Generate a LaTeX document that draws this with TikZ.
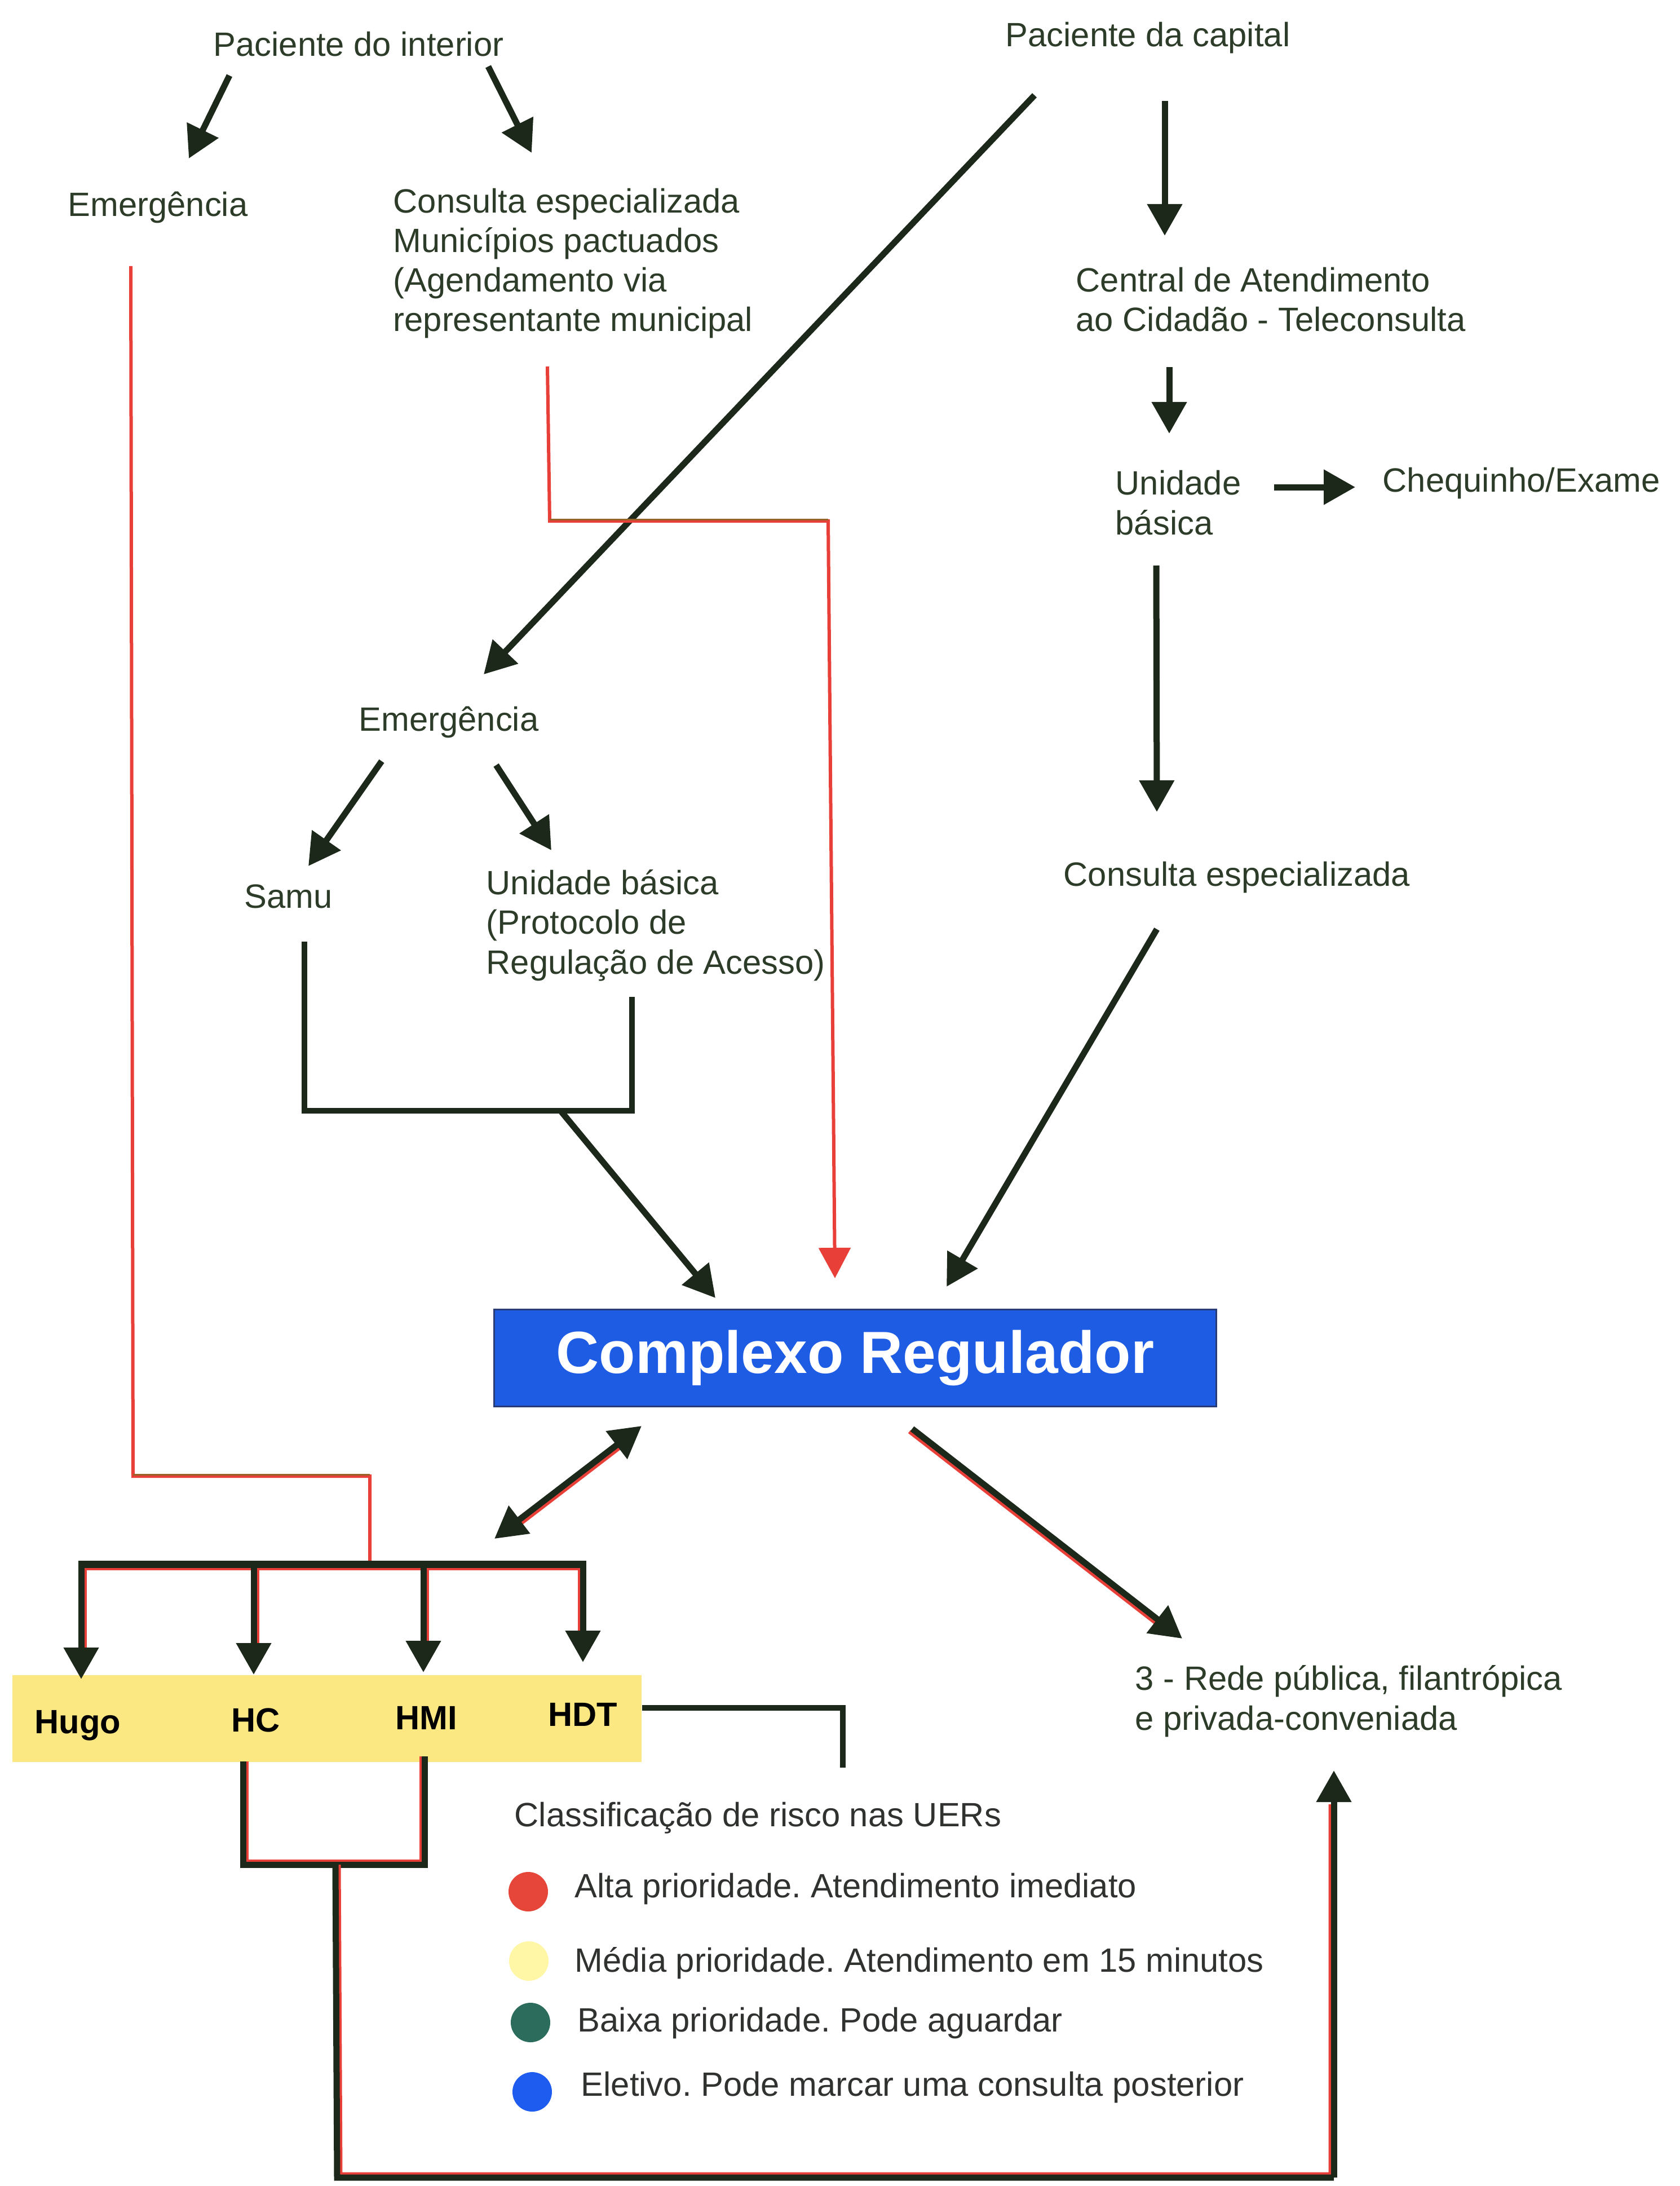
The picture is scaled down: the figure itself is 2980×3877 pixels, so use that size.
\documentclass[tikz,border=0pt]{standalone}
\usepackage{fontspec}
\setmainfont{Liberation Sans}
\usetikzlibrary{arrows.meta}
\frenchspacing
\definecolor{ink}{RGB}{44,60,40}
\definecolor{linec}{RGB}{28,40,26}
\definecolor{redc}{RGB}{232,64,56}
\definecolor{olivec}{RGB}{150,100,40}
\definecolor{boxblue}{RGB}{30,92,228}
\definecolor{boxedge}{RGB}{40,60,120}
\definecolor{ybar}{RGB}{251,232,130}
\definecolor{legtext}{RGB}{48,50,48}
\definecolor{cred}{RGB}{230,70,58}
\definecolor{cyel}{RGB}{255,246,166}
\definecolor{cteal}{RGB}{44,108,92}
\definecolor{cblue}{RGB}{30,92,240}
\begin{document}
\begin{tikzpicture}[x=0.1mm,y=-0.1mm,
  txt/.style={font=\fontsize{17}{20}\selectfont, text=ink, inner sep=0pt, align=left},
  legtxt/.style={txt, text=legtext},
  hlab/.style={font=\bfseries\fontsize{17}{20}\selectfont, text=black, inner sep=0pt, anchor=base},
  darr/.style={draw=linec, line width=1.1mm, -{Triangle[width=6mm,length=5.6mm]}},
  dline/.style={draw=linec, line width=1.1mm},
  rline/.style={draw=redc, line width=0.6mm},
  rtwin/.style={draw=redc, line width=0.7mm},
  rarr/.style={draw=redc, line width=0.6mm, -{Triangle[width=5.6mm,length=5.4mm]}},
  dot/.style={circle, minimum size=7mm, inner sep=0pt},
]
\useasboundingbox[fill=white] (0,0) rectangle (2980,3877);

% ---------- text nodes (multi-line nodes: base = last line) ----------
\node[txt, anchor=base] (pint) at (636,100) {Paciente do interior};
\node[txt, anchor=base] (pcap) at (2036,83) {Paciente da capital};
\node[txt, anchor=base west] (emg1) at (120,384) {Emergência};
\node[txt, anchor=base west] (cons1) at (697,588) {Consulta especializada\\Municípios pactuados\\(Agendamento via\\representante municipal};
\node[txt, anchor=base west] (central) at (1908,588) {Central de Atendimento\\ao Cidadão - Teleconsulta};
\node[txt, anchor=base west] (ubas1) at (1978,948) {Unidade\\básica};
\node[txt, anchor=base west] (cheq) at (2452,872) {Chequinho/Exame};
\node[txt, anchor=base west] (emg2) at (636,1296) {Emergência};
\node[txt, anchor=base west] (samu) at (433,1610) {Samu};
\node[txt, anchor=base west] (ubas2) at (862,1727) {Unidade básica\\(Protocolo de\\Regulação de Acesso)};
\node[txt, anchor=base west] (cons2) at (1886,1571) {Consulta especializada};

\node[fill=boxblue, draw=boxedge, line width=0.3mm, minimum width=128.1mm, minimum height=17.2mm, inner sep=0pt,
      font=\bfseries\fontsize{30}{36}\selectfont, text=white] (cr) at (1517,2408) {Complexo Regulador};

\node[fill=ybar, minimum width=111.6mm, minimum height=15.4mm, inner sep=0pt] (hosp) at (580,3048) {};
\node[hlab] (hugo) at (138,3074) {Hugo};
\node[hlab] (hc) at (454,3071) {HC};
\node[hlab] (hmi) at (756,3067) {HMI};
\node[hlab] (hdt) at (1034,3061) {HDT};

\node[txt, anchor=base west] (rede) at (2013,3068) {3 - Rede pública, filantrópica\\e privada-conveniada};

\node[legtxt, anchor=base west] (legt) at (912,3239) {Classificação de risco nas UERs};
\node[dot, fill=cred] (c1) at (937,3355) {};
\node[dot, fill=cyel] (c2) at (938,3478) {};
\node[dot, fill=cteal] (c3) at (941,3587) {};
\node[dot, fill=cblue] (c4) at (944,3710) {};
\node[legtxt, anchor=base west] (l1) at (1019,3365) {Alta prioridade. Atendimento imediato};
\node[legtxt, anchor=base west] (l2) at (1019,3497) {Média prioridade. Atendimento em 15 minutos};
\node[legtxt, anchor=base west] (l3) at (1024,3603) {Baixa prioridade. Pode aguardar};
\node[legtxt, anchor=base west] (l4) at (1030,3717) {Eletivo. Pode marcar uma consulta posterior};

% ---------- connector end points ----------
\coordinate (aIs) at (407,134);  \coordinate (aIe) at (335,281);
\coordinate (bIs) at (866,118);  \coordinate (bIe) at (943,271);
\coordinate (cCs) at (2066,179); \coordinate (cCe) at (2066,418);
\coordinate (dCs) at (1835,169); \coordinate (dCe) at (858,1196);
\coordinate (eCs) at (2074,651); \coordinate (eCe) at (2074,769);
\coordinate (fUs) at (2260,864); \coordinate (fUe) at (2404,864);
\coordinate (gUs) at (2051,1003);\coordinate (gUe) at (2052,1440);
\coordinate (hCs) at (2052,1648);\coordinate (hCe) at (1679,2282);
\coordinate (iEs) at (677,1350); \coordinate (iEe) at (547,1536);
\coordinate (jEs) at (880,1357); \coordinate (jEe) at (978,1508);
\coordinate (sb1) at (540,1670); \coordinate (sb2) at (540,1970);
\coordinate (sb3) at (1121,1970);\coordinate (sb4) at (1121,1768);
\coordinate (lBs) at (996,1972); \coordinate (lBe) at (1269,2302);
\coordinate (m1) at (971,650);   \coordinate (m2) at (975,924);
\coordinate (m3) at (1469,924);  \coordinate (m4) at (1481,2267);
\coordinate (n1) at (232,472);   \coordinate (n2) at (236,2618);
\coordinate (n3) at (656,2618);  \coordinate (n4) at (656,2768);
\coordinate (busL) at (139,2774);\coordinate (busR) at (1039,2774);
\coordinate (d1) at (144,2768);  \coordinate (t1) at (144,2978);
\coordinate (d2) at (450,2768);  \coordinate (t2) at (450,2970);
\coordinate (d3) at (751,2768);  \coordinate (t3) at (751,2966);
\coordinate (d4) at (1034,2768); \coordinate (t4) at (1034,2948);
\coordinate (dbA) at (1138,2529);\coordinate (dbB) at (877,2729);
\coordinate (rqs) at (1618,2534);\coordinate (rqe) at (2097,2906);
\coordinate (hd1) at (1139,3029);\coordinate (hd2) at (1495,3029);
\coordinate (hd3) at (1495,3135);
\coordinate (hcT) at (431,3124); \coordinate (hcB) at (431,3307);
\coordinate (hmB) at (753,3307); \coordinate (hmT) at (753,3115);
\coordinate (mid) at (595,3307); \coordinate (bl) at (598,3862);
\coordinate (br) at (2366,3862); \coordinate (upT) at (2366,3140);

% ---------- connectors ----------
\draw[darr] (aIs) -- (aIe);
\draw[darr] (bIs) -- (bIe);
\draw[darr] (cCs) -- (cCe);
\draw[darr] (dCs) -- (dCe);
\draw[darr] (eCs) -- (eCe);
\draw[darr] (fUs) -- (fUe);
\draw[darr] (gUs) -- (gUe);
\draw[darr] (hCs) -- (hCe);
\draw[darr] (iEs) -- (iEe);
\draw[darr] (jEs) -- (jEe);
\draw[dline, line width=1.0mm] (sb1) -- (sb2) -- (sb3) -- (sb4);
\draw[darr] (lBs) -- (lBe);

% red line from Consulta especializada (interior)
\draw[rarr] (m1) -- (m2) -- (m3) -- (m4);
\draw[olivec, line width=0.3mm] ([shift={(0,-3)}]m2) -- ([shift={(0,-3)}]m3);

% red line from Emergencia (interior)
\draw[rline] (n1) -- (n2) -- (n3) -- (n4);
\draw[olivec, line width=0.3mm] ([shift={(0,-3)}]n2) -- ([shift={(0,-3)}]n3);

% bus bar to hospitals
\draw[rtwin] ([shift={(4,7)}]busL) -- ([shift={(-4,7)}]busR);
\draw[rtwin] ([shift={(6,8)}]d1) -- ([shift={(6,-55)}]t1);
\draw[rtwin] ([shift={(6,8)}]d2) -- ([shift={(6,-55)}]t2);
\draw[rtwin] ([shift={(6,8)}]d3) -- ([shift={(6,-55)}]t3);
\draw[rtwin] ([shift={(-6,8)}]d4) -- ([shift={(-6,-55)}]t4);
\draw[dline, line width=1.3mm] (busL) -- (busR);
\draw[darr] (d1) -- (t1);
\draw[darr] (d2) -- (t2);
\draw[darr] (d3) -- (t3);
\draw[darr] (d4) -- (t4);

% double arrow Complexo <-> hospitals
\draw[rtwin, shorten <=5mm, shorten >=5mm] ([shift={(5,5)}]dbA) -- ([shift={(5,5)}]dbB);
\draw[draw=linec, line width=1.1mm, {Triangle[width=6mm,length=5.6mm]}-{Triangle[width=6mm,length=5.6mm]}] (dbA) -- (dbB);

% Complexo -> Rede
\draw[rtwin, shorten >=5mm] ([shift={(-5,5)}]rqs) -- ([shift={(-5,5)}]rqe);
\draw[darr] (rqs) -- (rqe);

% HDT line
\draw[dline, line width=1.0mm] (hd1) -- (hd2) -- (hd3);

% HC / HMI bracket and return line to Rede
\draw[rtwin] ([shift={(6,0)}]hcT) -- ([shift={(6,-6)}]hcB) -- ([shift={(-6,-6)}]hmB) -- ([shift={(-6,0)}]hmT);
\draw[dline] (hcT) -- (hcB) -- (hmB) -- (hmT);
\draw[rtwin] ([shift={(6,0)}]mid) -- ([shift={(6,-6)}]bl) -- ([shift={(-6,-6)}]br) -- ([shift={(-6,60)}]upT);
\draw[dline] (mid) -- (bl) -- (br);
\draw[darr] (br) -- (upT);
\end{tikzpicture}
\end{document}
